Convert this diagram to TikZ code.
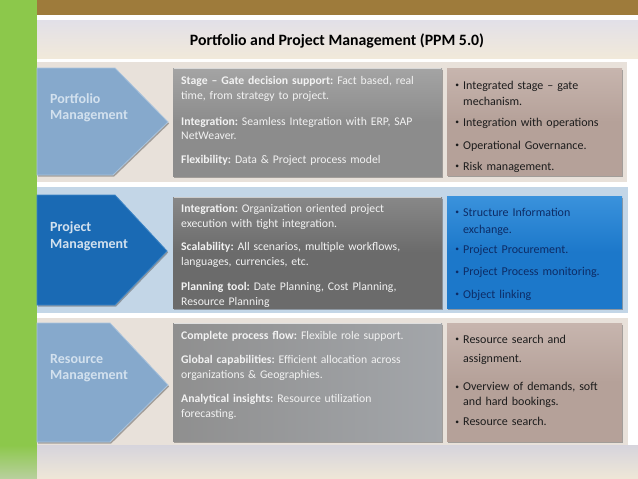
\documentclass[tikz,border=0pt]{standalone}
\usepackage{fontspec}
\setmainfont{Carlito}
\usetikzlibrary{shadows}
\frenchspacing
\definecolor{grn}{HTML}{8CC84B}
\definecolor{grnpale}{HTML}{B9D09F}
\definecolor{brn}{HTML}{9E7B3B}
\definecolor{titletop}{HTML}{E2E0E8}
\definecolor{titlebot}{HTML}{F1E9DA}
\definecolor{bottop}{HTML}{D6D4DC}
\definecolor{botbot}{HTML}{EFE7D7}
\definecolor{bandA}{HTML}{E8E1DA}
\definecolor{bandB}{HTML}{C3D6E7}
\definecolor{chevL}{HTML}{86A9CC}
\definecolor{chevLb}{HTML}{A9C3DD}
\definecolor{chevD}{HTML}{1A6AB4}
\definecolor{chevDb}{HTML}{3D85C6}
\definecolor{chevtxt}{HTML}{D3E1EE}
\definecolor{grayA}{HTML}{8C8C8C}
\definecolor{grayAt}{HTML}{A4A4A4}
\definecolor{grayB}{HTML}{6B6B6B}
\definecolor{grayBt}{HTML}{888888}
\definecolor{grayC}{HTML}{8F8F8F}
\definecolor{grayCr}{HTML}{A3A6AA}
\definecolor{pinkA}{HTML}{B5A199}
\definecolor{pinkAt}{HTML}{C7B5AE}
\definecolor{blueB}{HTML}{1C78CA}
\definecolor{blueBt}{HTML}{3A92DC}
\definecolor{navy}{HTML}{0D2C66}
\definecolor{graytxt}{HTML}{F2F2F2}
\definecolor{darktxt}{HTML}{1C1C1C}
\tikzset{
  panel/.style={drop shadow={shadow xshift=1.2pt,shadow yshift=-1.5pt,opacity=0.45,fill=black!70}},
  graytext/.style={anchor=base west,inner sep=0pt,text width=262pt,align=left,
    text=graytxt,font=\fontsize{11.7}{14.5}\selectfont\frenchspacing},
  bullettext/.style={anchor=base west,inner sep=0pt,text width=160pt,align=left,
    text=darktxt,font=\fontsize{12}{15.5}\selectfont\frenchspacing},
  chevtext/.style={anchor=base west,inner sep=0pt,align=left,text=chevtxt,
    font=\fontsize{14}{16.5}\selectfont\bfseries},
}
\newcommand{\bul}{\makebox[0pt][r]{\raisebox{1.6pt}{\fontsize{7.5}{8}\selectfont•}\hspace{4pt}}}
\begin{document}
\begin{tikzpicture}[x=1pt,y=-1pt]
\useasboundingbox (0,0) rectangle (638,479);
\fill[white] (0,0) rectangle (638,479);
% left strip and top bar
\fill[grn] (0,0) rectangle (37,445);
\shade[top color=grn,bottom color=grnpale] (0,445) rectangle (37,479);
\fill[brn] (37,0) rectangle (638,15);
% title band
\shade[top color=titletop,bottom color=titlebot] (37,20) rectangle (638,58);
\node[anchor=base,inner sep=0pt,font=\fontsize{15.8}{18}\selectfont\bfseries] (title) at (337,45.5) {Portfolio and Project Management (PPM 5.0)};
% row bands
\fill[bandA] (37,62) rectangle (627,182);
\fill[bandB] (37,187) rectangle (628,313);
\fill[bandA] (37,318) rectangle (628,445);
% bottom band
\shade[top color=bottop,bottom color=botbot] (37,445) rectangle (638,479);

% chevrons
\fill[chevL,draw=chevLb,line width=0.8pt,panel] (37,68) -- (115,68) -- (168,122) -- (113,175) -- (37,175) -- cycle;
\fill[chevD,draw=chevDb,line width=0.8pt,panel] (37,195) -- (115,195) -- (167,251) -- (115,305) -- (37,305) -- cycle;
\fill[chevL,draw=chevLb,line width=0.8pt,panel] (37,323) -- (110,323) -- (168,385) -- (110,442) -- (37,442) -- cycle;
\node[chevtext] (c1) at (50,119.5) {Portfolio\\Management};
\node[chevtext] (c2) at (50,248) {Project\\Management};
\node[chevtext] (c3) at (50,379.5) {Resource\\Management};

% gray boxes
\shade[panel,top color=grayAt,bottom color=grayA,middle color=grayA] (173,68) rectangle (442,176);
\shade[panel,top color=grayBt,bottom color=grayB,middle color=grayB] (173,197) rectangle (442,308);
\shade[panel,left color=grayC,right color=grayCr] (173,323) rectangle (442,441);
\draw[white!70!gray,line width=1pt] (174,68.5) -- (441,68.5);
\draw[white!60!gray,line width=1pt] (174,197.5) -- (441,197.5);
\draw[white!75!gray,line width=1pt] (174,323.5) -- (441,323.5);

% right boxes
\shade[panel,top color=pinkAt,bottom color=pinkA,middle color=pinkA] (447,68) rectangle (622,175);
\shade[panel,top color=blueBt,bottom color=blueB,middle color=blueB] (447,196) rectangle (622,308);
\shade[panel,top color=pinkAt,bottom color=pinkA,middle color=pinkA] (447,323) rectangle (622,441);

% gray box texts row 1
\node[graytext] (g11) at (181,84.5) {\textbf{Stage – Gate decision support:} Fact based, real\\time, from strategy to project.};
\node[graytext] (g12) at (181,125) {\textbf{Integration:} Seamless Integration with ERP, SAP\\NetWeaver.};
\node[graytext] (g13) at (181,163) {\textbf{Flexibility:} Data \& Project process model};
% row 2
\node[graytext] (g21) at (181,212.5) {\textbf{Integration:} Organization oriented project\\execution with tight integration.};
\node[graytext] (g22) at (181,250.5) {\textbf{Scalability:} All scenarios, multiple workflows,\\languages, currencies, etc.};
\node[graytext] (g23) at (181,290.5) {\textbf{Planning tool:} Date Planning, Cost Planning,\\Resource Planning};
% row 3
\node[graytext] (g31) at (181,339.5) {\textbf{Complete process flow:} Flexible role support.};
\node[graytext] (g32) at (181,363.5) {\textbf{Global capabilities:} Efficient allocation across\\organizations \& Geographies.};
\node[graytext] (g33) at (181,402.5) {\textbf{Analytical insights:} Resource utilization\\forecasting.};

% right box texts row 1
\node[bullettext] (b11) at (463,89.5) {\bul Integrated stage – gate\\mechanism.};
\node[bullettext] (b12) at (463,126.2) {\bul Integration with operations};
\node[bullettext] (b13) at (463,149.2) {\bul Operational Governance.};
\node[bullettext] (b14) at (463,170.2) {\bul Risk management.};
% row 2
\node[bullettext,text=navy,font=\fontsize{12}{17}\selectfont] (b21) at (463,216.2) {\bul Structure Information\\exchange.};
\node[bullettext,text=navy] (b22) at (463,253.5) {\bul Project Procurement.};
\node[bullettext,text=navy] (b23) at (463,275.8) {\bul Project Process monitoring.};
\node[bullettext,text=navy] (b24) at (463,298.5) {\bul Object linking};
% row 3
\node[bullettext,font=\fontsize{12}{19}\selectfont] (b31) at (463,343.5) {\bul Resource search and\\assignment.};
\node[bullettext,font=\fontsize{12}{15}\selectfont] (b32) at (463,390.8) {\bul Overview of demands, soft\\and hard bookings.};
\node[bullettext] (b33) at (463,425.8) {\bul Resource search.};
\end{tikzpicture}
\end{document}
